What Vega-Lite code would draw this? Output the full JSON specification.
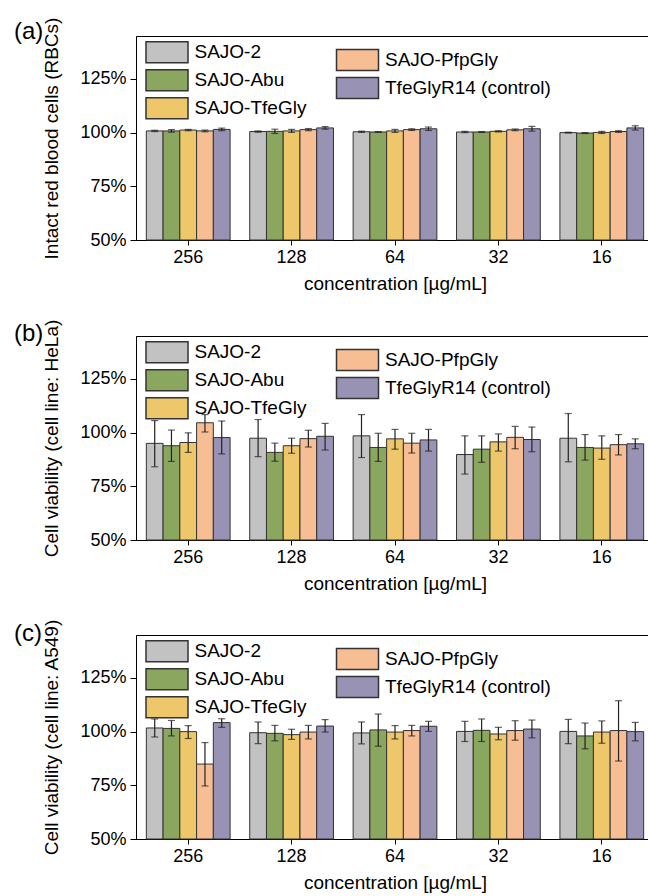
{
  "$schema": "https://vega.github.io/schema/vega-lite/v6.json",
  "autosize": {"type": "pad"},
  "padding": {"left": 13, "top": 16, "right": 0, "bottom": 0},
  "background": "white",
  "config": {
    "font": "Liberation Sans",
    "view": {"stroke": "black", "strokeWidth": 1},
    "axis": {"domainColor": "black", "tickColor": "black", "labelColor": "black", "titleColor": "black", "labelFont": "Liberation Sans", "titleFont": "Liberation Sans", "labelFontSize": 18, "titleFontSize": 19, "titleFontWeight": "normal", "grid": false},
    "legend": {"labelFont": "Liberation Sans", "labelFontSize": 19, "labelColor": "black", "padding": 0},
    "title": {"font": "Liberation Sans", "fontSize": 24, "fontWeight": "normal", "color": "black"}
  },
  "datasets": {
    "bars": [
      {"panel": "a", "conc": "256", "series": "SAJO-2", "mean": 100.8, "lo": 100.5, "hi": 101.1},
      {"panel": "a", "conc": "256", "series": "SAJO-Abu", "mean": 100.8, "lo": 100.2, "hi": 101.4},
      {"panel": "a", "conc": "256", "series": "SAJO-TfeGly", "mean": 101.2, "lo": 100.9, "hi": 101.5},
      {"panel": "a", "conc": "256", "series": "SAJO-PfpGly", "mean": 100.8, "lo": 100.4, "hi": 101.2},
      {"panel": "a", "conc": "256", "series": "TfeGlyR14 (control)", "mean": 101.5, "lo": 100.9, "hi": 102.1},
      {"panel": "a", "conc": "128", "series": "SAJO-2", "mean": 100.5, "lo": 100.2, "hi": 100.8},
      {"panel": "a", "conc": "128", "series": "SAJO-Abu", "mean": 100.6, "lo": 99.6, "hi": 101.6},
      {"panel": "a", "conc": "128", "series": "SAJO-TfeGly", "mean": 100.8, "lo": 100.1, "hi": 101.5},
      {"panel": "a", "conc": "128", "series": "SAJO-PfpGly", "mean": 101.4, "lo": 100.9, "hi": 101.9},
      {"panel": "a", "conc": "128", "series": "TfeGlyR14 (control)", "mean": 102.2, "lo": 101.6, "hi": 102.8},
      {"panel": "a", "conc": "64", "series": "SAJO-2", "mean": 100.4, "lo": 100.1, "hi": 100.7},
      {"panel": "a", "conc": "64", "series": "SAJO-Abu", "mean": 100.3, "lo": 100.1, "hi": 100.5},
      {"panel": "a", "conc": "64", "series": "SAJO-TfeGly", "mean": 100.8, "lo": 100.1, "hi": 101.5},
      {"panel": "a", "conc": "64", "series": "SAJO-PfpGly", "mean": 101.4, "lo": 101.0, "hi": 101.8},
      {"panel": "a", "conc": "64", "series": "TfeGlyR14 (control)", "mean": 101.8, "lo": 101.0, "hi": 102.6},
      {"panel": "a", "conc": "32", "series": "SAJO-2", "mean": 100.3, "lo": 100.0, "hi": 100.6},
      {"panel": "a", "conc": "32", "series": "SAJO-Abu", "mean": 100.3, "lo": 100.1, "hi": 100.5},
      {"panel": "a", "conc": "32", "series": "SAJO-TfeGly", "mean": 100.6, "lo": 100.3, "hi": 100.9},
      {"panel": "a", "conc": "32", "series": "SAJO-PfpGly", "mean": 101.3, "lo": 100.9, "hi": 101.7},
      {"panel": "a", "conc": "32", "series": "TfeGlyR14 (control)", "mean": 101.8, "lo": 100.7, "hi": 102.9},
      {"panel": "a", "conc": "16", "series": "SAJO-2", "mean": 100.0, "lo": 99.8, "hi": 100.2},
      {"panel": "a", "conc": "16", "series": "SAJO-Abu", "mean": 99.8, "lo": 99.6, "hi": 100.0},
      {"panel": "a", "conc": "16", "series": "SAJO-TfeGly", "mean": 100.1, "lo": 99.6, "hi": 100.6},
      {"panel": "a", "conc": "16", "series": "SAJO-PfpGly", "mean": 100.5, "lo": 100.1, "hi": 100.9},
      {"panel": "a", "conc": "16", "series": "TfeGlyR14 (control)", "mean": 102.2, "lo": 101.2, "hi": 103.2},

      {"panel": "b", "conc": "256", "series": "SAJO-2", "mean": 95.0, "lo": 84.1, "hi": 105.6},
      {"panel": "b", "conc": "256", "series": "SAJO-Abu", "mean": 93.9, "lo": 86.6, "hi": 101.2},
      {"panel": "b", "conc": "256", "series": "SAJO-TfeGly", "mean": 95.4, "lo": 90.8, "hi": 99.9},
      {"panel": "b", "conc": "256", "series": "SAJO-PfpGly", "mean": 104.6, "lo": 100.3, "hi": 108.4},
      {"panel": "b", "conc": "256", "series": "TfeGlyR14 (control)", "mean": 97.7, "lo": 90.1, "hi": 105.4},
      {"panel": "b", "conc": "128", "series": "SAJO-2", "mean": 97.4, "lo": 88.8, "hi": 106.1},
      {"panel": "b", "conc": "128", "series": "SAJO-Abu", "mean": 90.8, "lo": 86.7, "hi": 95.1},
      {"panel": "b", "conc": "128", "series": "SAJO-TfeGly", "mean": 93.9, "lo": 90.4, "hi": 97.4},
      {"panel": "b", "conc": "128", "series": "SAJO-PfpGly", "mean": 97.2, "lo": 93.3, "hi": 101.1},
      {"panel": "b", "conc": "128", "series": "TfeGlyR14 (control)", "mean": 98.3, "lo": 91.9, "hi": 104.3},
      {"panel": "b", "conc": "64", "series": "SAJO-2", "mean": 98.5, "lo": 88.4, "hi": 108.4},
      {"panel": "b", "conc": "64", "series": "SAJO-Abu", "mean": 93.1, "lo": 86.6, "hi": 99.7},
      {"panel": "b", "conc": "64", "series": "SAJO-TfeGly", "mean": 97.1, "lo": 92.3, "hi": 101.5},
      {"panel": "b", "conc": "64", "series": "SAJO-PfpGly", "mean": 95.1, "lo": 90.5, "hi": 99.7},
      {"panel": "b", "conc": "64", "series": "TfeGlyR14 (control)", "mean": 96.6, "lo": 91.4, "hi": 101.5},
      {"panel": "b", "conc": "32", "series": "SAJO-2", "mean": 89.8, "lo": 80.7, "hi": 98.5},
      {"panel": "b", "conc": "32", "series": "SAJO-Abu", "mean": 92.3, "lo": 86.2, "hi": 98.5},
      {"panel": "b", "conc": "32", "series": "SAJO-TfeGly", "mean": 95.7, "lo": 91.4, "hi": 99.4},
      {"panel": "b", "conc": "32", "series": "SAJO-PfpGly", "mean": 97.8, "lo": 92.5, "hi": 102.9},
      {"panel": "b", "conc": "32", "series": "TfeGlyR14 (control)", "mean": 96.8, "lo": 91.1, "hi": 102.6},
      {"panel": "b", "conc": "16", "series": "SAJO-2", "mean": 97.4, "lo": 86.4, "hi": 108.9},
      {"panel": "b", "conc": "16", "series": "SAJO-Abu", "mean": 93.1, "lo": 87.2, "hi": 99.1},
      {"panel": "b", "conc": "16", "series": "SAJO-TfeGly", "mean": 92.8, "lo": 87.6, "hi": 98.5},
      {"panel": "b", "conc": "16", "series": "SAJO-PfpGly", "mean": 94.4, "lo": 89.6, "hi": 99.1},
      {"panel": "b", "conc": "16", "series": "TfeGlyR14 (control)", "mean": 94.8, "lo": 92.5, "hi": 97.1},

      {"panel": "c", "conc": "256", "series": "SAJO-2", "mean": 101.7, "lo": 97.5, "hi": 105.9},
      {"panel": "c", "conc": "256", "series": "SAJO-Abu", "mean": 101.5, "lo": 98.0, "hi": 105.2},
      {"panel": "c", "conc": "256", "series": "SAJO-TfeGly", "mean": 100.0, "lo": 96.8, "hi": 102.8},
      {"panel": "c", "conc": "256", "series": "SAJO-PfpGly", "mean": 84.9, "lo": 74.7, "hi": 94.9},
      {"panel": "c", "conc": "256", "series": "TfeGlyR14 (control)", "mean": 104.2, "lo": 102.0, "hi": 106.0},
      {"panel": "c", "conc": "128", "series": "SAJO-2", "mean": 99.5, "lo": 94.4, "hi": 104.5},
      {"panel": "c", "conc": "128", "series": "SAJO-Abu", "mean": 99.2, "lo": 95.7, "hi": 102.9},
      {"panel": "c", "conc": "128", "series": "SAJO-TfeGly", "mean": 98.6, "lo": 96.4, "hi": 101.1},
      {"panel": "c", "conc": "128", "series": "SAJO-PfpGly", "mean": 99.8, "lo": 96.6, "hi": 102.9},
      {"panel": "c", "conc": "128", "series": "TfeGlyR14 (control)", "mean": 102.6, "lo": 99.8, "hi": 105.6},
      {"panel": "c", "conc": "64", "series": "SAJO-2", "mean": 99.4, "lo": 94.3, "hi": 104.5},
      {"panel": "c", "conc": "64", "series": "SAJO-Abu", "mean": 100.8, "lo": 93.2, "hi": 108.2},
      {"panel": "c", "conc": "64", "series": "SAJO-TfeGly", "mean": 99.8, "lo": 96.6, "hi": 102.8},
      {"panel": "c", "conc": "64", "series": "SAJO-PfpGly", "mean": 100.5, "lo": 98.0, "hi": 102.9},
      {"panel": "c", "conc": "64", "series": "TfeGlyR14 (control)", "mean": 102.5, "lo": 100.1, "hi": 104.8},
      {"panel": "c", "conc": "32", "series": "SAJO-2", "mean": 100.1, "lo": 95.4, "hi": 104.8},
      {"panel": "c", "conc": "32", "series": "SAJO-Abu", "mean": 100.6, "lo": 95.4, "hi": 105.9},
      {"panel": "c", "conc": "32", "series": "SAJO-TfeGly", "mean": 98.9, "lo": 96.2, "hi": 102.0},
      {"panel": "c", "conc": "32", "series": "SAJO-PfpGly", "mean": 100.5, "lo": 96.0, "hi": 105.1},
      {"panel": "c", "conc": "32", "series": "TfeGlyR14 (control)", "mean": 101.2, "lo": 97.1, "hi": 105.4},
      {"panel": "c", "conc": "16", "series": "SAJO-2", "mean": 100.1, "lo": 94.4, "hi": 105.7},
      {"panel": "c", "conc": "16", "series": "SAJO-Abu", "mean": 98.0, "lo": 92.0, "hi": 104.0},
      {"panel": "c", "conc": "16", "series": "SAJO-TfeGly", "mean": 99.8, "lo": 94.6, "hi": 105.0},
      {"panel": "c", "conc": "16", "series": "SAJO-PfpGly", "mean": 100.5, "lo": 86.3, "hi": 114.4},
      {"panel": "c", "conc": "16", "series": "TfeGlyR14 (control)", "mean": 100.0, "lo": 95.7, "hi": 104.3}
    ]
  },
  "spacing": 24,
  "resolve": {"scale": {"x": "independent", "y": "independent", "xOffset": "independent", "fill": "independent"}, "legend": {"fill": "independent"}, "axis": {"x": "independent", "y": "independent"}},
  "vconcat": [
    {
      "data": {"name": "bars"},
      "transform": [{"filter": "datum.panel === 'a'"}],
      "title": {"text": "(a)", "anchor": "start", "frame": "group", "dx": -122, "dy": 18, "offset": -9},
      "width": 518, "height": 204,
      "encoding": {
        "x": {"field": "conc", "type": "nominal", "sort": ["256", "128", "64", "32", "16"], "scale": {"paddingInner": 0.19, "paddingOuter": 0.1}, "axis": {"title": "concentration [µg/mL]", "labelAngle": 0, "tickSize": 5, "labelPadding": 3, "titlePadding": 8}},
        "xOffset": {"field": "series", "type": "nominal", "scale": {"domain": ["SAJO-2", "SAJO-Abu", "SAJO-TfeGly", "SAJO-PfpGly", "TfeGlyR14 (control)"], "paddingInner": 0, "paddingOuter": 0}}
      },
      "layer": [
        {"transform": [{"filter": {"field": "series", "oneOf": ["SAJO-2", "SAJO-Abu", "SAJO-TfeGly"]}}],
         "mark": {"type": "bar", "stroke": "#333333", "strokeWidth": 1},
         "encoding": {
           "y": {"field": "mean", "type": "quantitative", "title": "Intact red blood cells (RBCs)", "scale": {"domain": [50, 145], "nice": false, "zero": false}, "axis": {"values": [50, 75, 100, 125], "labelExpr": "datum.value + '%'", "tickSize": 6, "labelPadding": 4, "titlePadding": 18}},
           "y2": {"datum": 50},
           "fill": {"field": "series", "type": "nominal", "scale": {"domain": ["SAJO-2", "SAJO-Abu", "SAJO-TfeGly"], "range": ["#c1c2c1", "#8aa65f", "#edc76a"]}, "legend": {"title": null, "orient": "none", "legendX": 19.5, "legendY": 4.7, "symbolType": "M-2,-1H2V1H-2Z", "symbolSize": 441, "symbolStrokeColor": "#333333", "symbolStrokeWidth": 1.5, "symbolOpacity": 1, "labelOffset": 16, "rowPadding": 1, "labelLimit": 300}}
         }},
        {"transform": [{"filter": {"field": "series", "oneOf": ["SAJO-PfpGly", "TfeGlyR14 (control)"]}}],
         "mark": {"type": "bar", "stroke": "#333333", "strokeWidth": 1},
         "encoding": {
           "y": {"field": "mean", "type": "quantitative", "title": "Intact red blood cells (RBCs)"},
           "y2": {"datum": 50},
           "fill": {"field": "series", "type": "nominal", "scale": {"domain": ["SAJO-PfpGly", "TfeGlyR14 (control)"], "range": ["#f7be93", "#9893b4"]}, "legend": {"title": null, "orient": "none", "legendX": 210, "legendY": 12.4, "symbolType": "M-2,-1H2V1H-2Z", "symbolSize": 441, "symbolStrokeColor": "#333333", "symbolStrokeWidth": 1.5, "symbolOpacity": 1, "labelOffset": 16, "rowPadding": 1, "labelLimit": 300}}
         }},
        {"mark": {"type": "rule", "color": "#222222", "strokeWidth": 1.2},
         "encoding": {"y": {"field": "lo", "type": "quantitative", "title": "Intact red blood cells (RBCs)"}, "y2": {"field": "hi"}}},
        {"mark": {"type": "tick", "color": "#222222", "size": 7, "thickness": 1.2, "orient": "horizontal"},
         "encoding": {"y": {"field": "lo", "type": "quantitative", "title": "Intact red blood cells (RBCs)"}}},
        {"mark": {"type": "tick", "color": "#222222", "size": 7, "thickness": 1.2, "orient": "horizontal"},
         "encoding": {"y": {"field": "hi", "type": "quantitative", "title": "Intact red blood cells (RBCs)"}}}
      ],
      "resolve": {"scale": {"fill": "independent"}}
    },
    {
      "data": {"name": "bars"},
      "transform": [{"filter": "datum.panel === 'b'"}],
      "title": {"text": "(b)", "anchor": "start", "frame": "group", "dx": -122, "dy": 18, "offset": -9},
      "width": 518, "height": 204,
      "encoding": {
        "x": {"field": "conc", "type": "nominal", "sort": ["256", "128", "64", "32", "16"], "scale": {"paddingInner": 0.19, "paddingOuter": 0.1}, "axis": {"title": "concentration [µg/mL]", "labelAngle": 0, "tickSize": 5, "labelPadding": 3, "titlePadding": 8}},
        "xOffset": {"field": "series", "type": "nominal", "scale": {"domain": ["SAJO-2", "SAJO-Abu", "SAJO-TfeGly", "SAJO-PfpGly", "TfeGlyR14 (control)"], "paddingInner": 0, "paddingOuter": 0}}
      },
      "layer": [
        {"transform": [{"filter": {"field": "series", "oneOf": ["SAJO-2", "SAJO-Abu", "SAJO-TfeGly"]}}],
         "mark": {"type": "bar", "stroke": "#333333", "strokeWidth": 1},
         "encoding": {
           "y": {"field": "mean", "type": "quantitative", "title": "Cell viability (cell line: HeLa)", "scale": {"domain": [50, 145], "nice": false, "zero": false}, "axis": {"values": [50, 75, 100, 125], "labelExpr": "datum.value + '%'", "tickSize": 6, "labelPadding": 4, "titlePadding": 18}},
           "y2": {"datum": 50},
           "fill": {"field": "series", "type": "nominal", "scale": {"domain": ["SAJO-2", "SAJO-Abu", "SAJO-TfeGly"], "range": ["#c1c2c1", "#8aa65f", "#edc76a"]}, "legend": {"title": null, "orient": "none", "legendX": 19.5, "legendY": 4.7, "symbolType": "M-2,-1H2V1H-2Z", "symbolSize": 441, "symbolStrokeColor": "#333333", "symbolStrokeWidth": 1.5, "symbolOpacity": 1, "labelOffset": 16, "rowPadding": 1, "labelLimit": 300}}
         }},
        {"transform": [{"filter": {"field": "series", "oneOf": ["SAJO-PfpGly", "TfeGlyR14 (control)"]}}],
         "mark": {"type": "bar", "stroke": "#333333", "strokeWidth": 1},
         "encoding": {
           "y": {"field": "mean", "type": "quantitative", "title": "Cell viability (cell line: HeLa)"},
           "y2": {"datum": 50},
           "fill": {"field": "series", "type": "nominal", "scale": {"domain": ["SAJO-PfpGly", "TfeGlyR14 (control)"], "range": ["#f7be93", "#9893b4"]}, "legend": {"title": null, "orient": "none", "legendX": 210, "legendY": 12.4, "symbolType": "M-2,-1H2V1H-2Z", "symbolSize": 441, "symbolStrokeColor": "#333333", "symbolStrokeWidth": 1.5, "symbolOpacity": 1, "labelOffset": 16, "rowPadding": 1, "labelLimit": 300}}
         }},
        {"mark": {"type": "rule", "color": "#222222", "strokeWidth": 1.2},
         "encoding": {"y": {"field": "lo", "type": "quantitative", "title": "Cell viability (cell line: HeLa)"}, "y2": {"field": "hi"}}},
        {"mark": {"type": "tick", "color": "#222222", "size": 7, "thickness": 1.2, "orient": "horizontal"},
         "encoding": {"y": {"field": "lo", "type": "quantitative", "title": "Cell viability (cell line: HeLa)"}}},
        {"mark": {"type": "tick", "color": "#222222", "size": 7, "thickness": 1.2, "orient": "horizontal"},
         "encoding": {"y": {"field": "hi", "type": "quantitative", "title": "Cell viability (cell line: HeLa)"}}}
      ],
      "resolve": {"scale": {"fill": "independent"}}
    },
    {
      "data": {"name": "bars"},
      "transform": [{"filter": "datum.panel === 'c'"}],
      "title": {"text": "(c)", "anchor": "start", "frame": "group", "dx": -122, "dy": 18, "offset": -9},
      "width": 518, "height": 204,
      "encoding": {
        "x": {"field": "conc", "type": "nominal", "sort": ["256", "128", "64", "32", "16"], "scale": {"paddingInner": 0.19, "paddingOuter": 0.1}, "axis": {"title": "concentration [µg/mL]", "labelAngle": 0, "tickSize": 5, "labelPadding": 3, "titlePadding": 8}},
        "xOffset": {"field": "series", "type": "nominal", "scale": {"domain": ["SAJO-2", "SAJO-Abu", "SAJO-TfeGly", "SAJO-PfpGly", "TfeGlyR14 (control)"], "paddingInner": 0, "paddingOuter": 0}}
      },
      "layer": [
        {"transform": [{"filter": {"field": "series", "oneOf": ["SAJO-2", "SAJO-Abu", "SAJO-TfeGly"]}}],
         "mark": {"type": "bar", "stroke": "#333333", "strokeWidth": 1},
         "encoding": {
           "y": {"field": "mean", "type": "quantitative", "title": "Cell viability (cell line: A549)", "scale": {"domain": [50, 145], "nice": false, "zero": false}, "axis": {"values": [50, 75, 100, 125], "labelExpr": "datum.value + '%'", "tickSize": 6, "labelPadding": 4, "titlePadding": 18}},
           "y2": {"datum": 50},
           "fill": {"field": "series", "type": "nominal", "scale": {"domain": ["SAJO-2", "SAJO-Abu", "SAJO-TfeGly"], "range": ["#c1c2c1", "#8aa65f", "#edc76a"]}, "legend": {"title": null, "orient": "none", "legendX": 19.5, "legendY": 4.7, "symbolType": "M-2,-1H2V1H-2Z", "symbolSize": 441, "symbolStrokeColor": "#333333", "symbolStrokeWidth": 1.5, "symbolOpacity": 1, "labelOffset": 16, "rowPadding": 1, "labelLimit": 300}}
         }},
        {"transform": [{"filter": {"field": "series", "oneOf": ["SAJO-PfpGly", "TfeGlyR14 (control)"]}}],
         "mark": {"type": "bar", "stroke": "#333333", "strokeWidth": 1},
         "encoding": {
           "y": {"field": "mean", "type": "quantitative", "title": "Cell viability (cell line: A549)"},
           "y2": {"datum": 50},
           "fill": {"field": "series", "type": "nominal", "scale": {"domain": ["SAJO-PfpGly", "TfeGlyR14 (control)"], "range": ["#f7be93", "#9893b4"]}, "legend": {"title": null, "orient": "none", "legendX": 210, "legendY": 12.4, "symbolType": "M-2,-1H2V1H-2Z", "symbolSize": 441, "symbolStrokeColor": "#333333", "symbolStrokeWidth": 1.5, "symbolOpacity": 1, "labelOffset": 16, "rowPadding": 1, "labelLimit": 300}}
         }},
        {"mark": {"type": "rule", "color": "#222222", "strokeWidth": 1.2},
         "encoding": {"y": {"field": "lo", "type": "quantitative", "title": "Cell viability (cell line: A549)"}, "y2": {"field": "hi"}}},
        {"mark": {"type": "tick", "color": "#222222", "size": 7, "thickness": 1.2, "orient": "horizontal"},
         "encoding": {"y": {"field": "lo", "type": "quantitative", "title": "Cell viability (cell line: A549)"}}},
        {"mark": {"type": "tick", "color": "#222222", "size": 7, "thickness": 1.2, "orient": "horizontal"},
         "encoding": {"y": {"field": "hi", "type": "quantitative", "title": "Cell viability (cell line: A549)"}}}
      ],
      "resolve": {"scale": {"fill": "independent"}}
    }
  ]
}
